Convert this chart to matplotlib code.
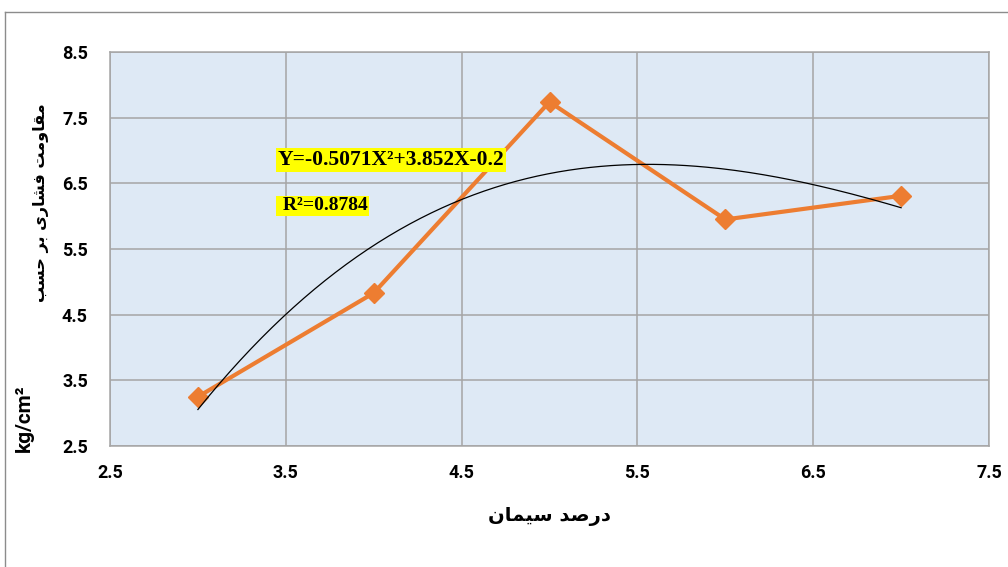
import numpy as np
import matplotlib
matplotlib.use("Agg")
import matplotlib.pyplot as plt
from matplotlib.lines import Line2D

# ---- data ----
cement_pct = [3, 4, 5, 6, 7]
strength = [3.25, 4.83, 7.74, 5.95, 6.31]
# trendline
trend_x = [3.0, 3.5, 3.96, 4.5, 4.83, 5.52, 6.25, 7.0]
trend_y = [3.06, 4.49, 5.49, 6.27, 6.54, 6.77, 6.63, 6.125]
x_ticks = [2.5, 3.5, 4.5, 5.5, 6.5, 7.5]
y_ticks = [2.5, 3.5, 4.5, 5.5, 6.5, 7.5, 8.5]
eq_text = "Y=-0.5071X\u00b2+3.852X-0.2"
r2_text = " R\u00b2=0.8784"


def shape_rtl(forms):
    """forms: list of presentation-form code points in logical order -> visual string"""
    return "".join(chr(c) for c in forms)[::-1]

# مقاومت فشاری بر حسب  (shaped presentation forms, logical order)
ylabel_fa = shape_rtl([0xFEE3, 0xFED8, 0xFE8E, 0xFEED, 0xFEE3, 0xFE96, 0x20,
                       0xFED3, 0xFEB8, 0xFE8E, 0xFEAD, 0xFEEF, 0x20,
                       0xFE91, 0xFEAE, 0x20,
                       0xFEA3, 0xFEB4, 0xFE90])
ylabel_unit = "kg/cm\u00b2"
# درصد سیمان
xlabel_fa = shape_rtl([0xFEA9, 0xFEAD, 0xFEBB, 0xFEAA, 0x20,
                       0xFEB3, 0xFEF4, 0xFEE4, 0xFE8E, 0xFEE5])

W, H = 1008, 567
fig = plt.figure(figsize=(W / 100, H / 100), dpi=100)
fig.patch.set_facecolor("white")

ax = fig.add_axes([110 / W, 1 - 446 / H, (989 - 110) / W, (446 - 52) / H])
ax.set_facecolor("#DEE9F5")
ax.set_xlim(2.5, 7.5)
ax.set_ylim(2.5, 8.5)
ax.set_xticks(x_ticks)
ax.set_yticks(y_ticks)
ax.set_xticklabels([f"{v:.1f}" for v in x_ticks])
ax.set_yticklabels([f"{v:.1f}" for v in y_ticks])
grid_c = "#A5A5A5"
ax.grid(True, color=grid_c, linewidth=1.1, zorder=0)
ax.set_axisbelow(True)
for s in ax.spines.values():
    s.set_color(grid_c)
    s.set_linewidth(1.1)
ax.tick_params(length=0, labelsize=13, pad=13)
ax.tick_params(axis="y", pad=16)
for lab in ax.get_xticklabels() + ax.get_yticklabels():
    lab.set_fontfamily("Roboto")
    lab.set_fontweight("bold")

# data line
ax.plot(cement_pct, strength, color="#ED7D31", linewidth=3, marker="D",
        markersize=10, markerfacecolor="#ED7D31", markeredgecolor="#ED7D31",
        zorder=3, clip_on=False)

# trendline (smooth curve through points)
coef = np.polyfit(trend_x, trend_y, 3)
xs = np.linspace(trend_x[0], trend_x[-1], 200)
ax.plot(xs, np.polyval(coef, xs), color="black", linewidth=0.9, zorder=4)

# equation boxes
box = dict(boxstyle="square,pad=0.08", facecolor="#FFFF00", edgecolor="none")
fig.text(278 / W, 1 - 160 / H, eq_text, family="Liberation Serif",
         fontweight="bold", fontsize=15.5, ha="left", va="center", bbox=box, zorder=5)
fig.text(278 / W, 1 - 206 / H, r2_text, family="Liberation Serif",
         fontweight="bold", fontsize=14, ha="left", va="center", bbox=box, zorder=5)

# axis titles
fig.text(549 / W, 1 - 517 / H, xlabel_fa, family="DejaVu Sans", fontweight="bold",
         fontsize=14, ha="center", va="center")
fig.text(41 / W, 1 - 203 / H, ylabel_fa, family="DejaVu Sans", fontweight="bold",
         fontsize=11.5, ha="center", va="center", rotation=90)
fig.text(24 / W, 1 - 418 / H, ylabel_unit, family="Roboto", fontweight="bold",
         fontsize=15, ha="center", va="center", rotation=90)

# outer chart border (extends past the image edges)
border_c = "#8C8C8C"
fig.add_artist(Line2D([4.5 / W, 4.5 / W], [0, 1 - 12 / H], color=border_c, linewidth=1.0))
fig.add_artist(Line2D([4.5 / W, 1.0], [1 - 12 / H, 1 - 12 / H], color=border_c, linewidth=1.0))

fig.savefig("out.png", dpi=100)
